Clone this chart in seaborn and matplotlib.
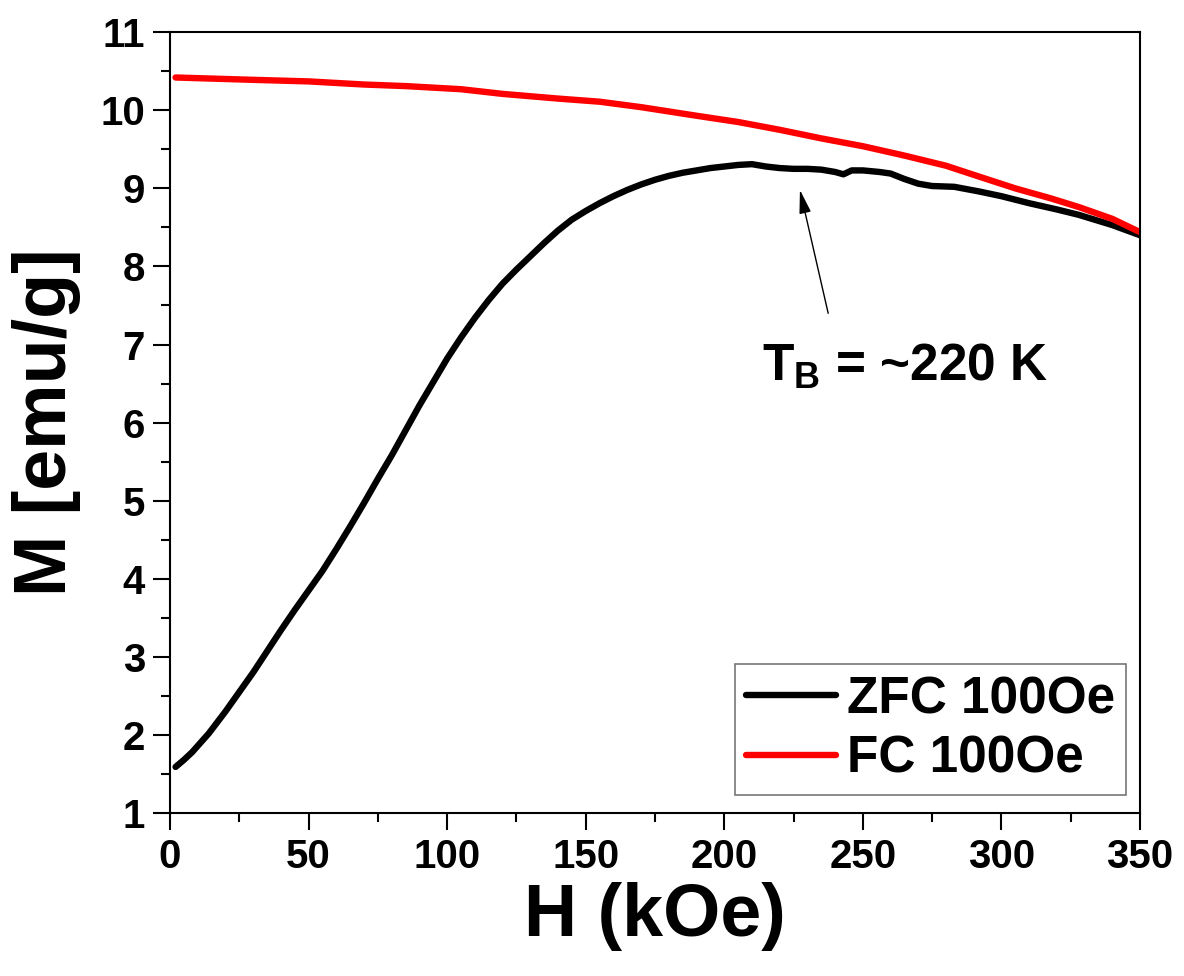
import matplotlib
matplotlib.use("Agg")
import matplotlib.pyplot as plt
from matplotlib.ticker import MultipleLocator
import seaborn as sns
import pandas as pd

# ---- data ----
zfc_h = [2, 5, 8, 11, 14, 17, 20, 25, 30, 35, 40, 45, 50, 55, 60, 65, 70, 75, 80,
         85, 90, 95, 100, 105, 110, 115, 120, 125, 130, 135, 140, 145, 150, 155, 160,
         165, 170, 175, 180, 185, 190, 195, 200, 205, 210, 215, 220, 225, 230, 235,
         240, 243, 246, 250, 256, 260, 265, 270, 275, 283, 292, 300, 310, 320, 328,
         340, 350]
zfc_m = [1.59, 1.68, 1.78, 1.90, 2.02, 2.16, 2.30, 2.55, 2.80, 3.07, 3.34, 3.60, 3.85,
         4.10, 4.38, 4.67, 4.97, 5.28, 5.58, 5.90, 6.22, 6.52, 6.82, 7.09, 7.34, 7.57,
         7.78, 7.96, 8.13, 8.30, 8.46, 8.60, 8.71, 8.81, 8.90, 8.98, 9.05, 9.11, 9.16,
         9.20, 9.23, 9.26, 9.28, 9.30, 9.31, 9.28, 9.26, 9.25, 9.25, 9.24, 9.21, 9.18,
         9.23, 9.23, 9.21, 9.19, 9.12, 9.06, 9.03, 9.02, 8.96, 8.90, 8.81, 8.73, 8.66,
         8.53, 8.40]
fc_h = [2, 30, 50, 70, 85, 105, 120, 140, 155, 170, 190, 205, 220, 235, 250, 265,
        280, 292, 305, 318, 328, 340, 350]
fc_m = [10.42, 10.39, 10.37, 10.33, 10.31, 10.27, 10.21, 10.15, 10.11, 10.04, 9.93,
        9.85, 9.75, 9.64, 9.54, 9.42, 9.29, 9.15, 9.00, 8.87, 8.76, 8.61, 8.44]
series_names = ["ZFC 100Oe", "FC 100Oe"]
series_colors = ["#000000", "#ff0000"]
x_ticks = [0, 50, 100, 150, 200, 250, 300, 350]
y_ticks = [1, 2, 3, 4, 5, 6, 7, 8, 9, 10, 11]
annotation_text = r"T$_\mathrm{B}$ = ~220 K"

df = pd.concat([
    pd.DataFrame({"H": zfc_h, "M": zfc_m, "series": series_names[0]}),
    pd.DataFrame({"H": fc_h, "M": fc_m, "series": series_names[1]}),
], ignore_index=True)

sns.set_theme(style="ticks")
plt.rcParams["font.family"] = ["Liberation Sans", "DejaVu Sans"]
plt.rcParams["font.weight"] = "bold"
plt.rcParams["text.color"] = "black"
plt.rcParams["axes.labelcolor"] = "black"
plt.rcParams["xtick.color"] = "black"
plt.rcParams["ytick.color"] = "black"
plt.rcParams["axes.edgecolor"] = "black"
plt.rcParams["mathtext.fontset"] = "custom"
plt.rcParams["mathtext.rm"] = "Liberation Sans:bold"
plt.rcParams["mathtext.it"] = "Liberation Sans:bold"
plt.rcParams["mathtext.bf"] = "Liberation Sans:bold"

fig = plt.figure(figsize=(11.84, 9.76), dpi=100)
ax = fig.add_axes([0.1436, 0.167, 0.8192, 0.800])

sns.lineplot(data=df, x="H", y="M", hue="series", hue_order=series_names,
             palette=dict(zip(series_names, series_colors)), linewidth=4.6,
             ax=ax, sort=True, estimator=None)
for line in ax.get_lines():
    line.set_solid_joinstyle("round")
    line.set_solid_capstyle("round")

ax.set_xlim(0, 350)
ax.set_ylim(1, 11)
ax.set_xticks(x_ticks)
ax.set_yticks(y_ticks)
ax.xaxis.set_minor_locator(MultipleLocator(25))
ax.yaxis.set_minor_locator(MultipleLocator(0.5))
ax.tick_params(axis="both", which="major", direction="out", length=12, width=1.5,
               labelsize=29, pad=6, top=False, right=False, colors="black")
ax.tick_params(axis="both", which="minor", direction="out", length=6.5, width=1.5,
               top=False, right=False, colors="black")
for lab in ax.get_xticklabels() + ax.get_yticklabels():
    lab.set_fontweight("bold")
    lab.set_color("black")
for sp in ax.spines.values():
    sp.set_visible(True)
    sp.set_linewidth(1.5)
    sp.set_color("black")

ax.set_xlabel("H (kOe)", fontsize=53, fontweight="bold", labelpad=4, color="black")
ax.set_ylabel("M [emu/g]", fontsize=53, fontweight="bold", labelpad=14, color="black")

leg = ax.legend(loc="lower right", bbox_to_anchor=(0.9856, 0.023), borderaxespad=0,
                fontsize=37, handlelength=1.75, handletextpad=0.2, labelspacing=0.2,
                borderpad=0.22, fancybox=False, frameon=True)
leg.get_frame().set_edgecolor("#555555")
leg.get_frame().set_linewidth(1.2)
for line in leg.get_lines():
    line.set_linewidth(4.6)
for t in leg.get_texts():
    t.set_fontweight("bold")
    t.set_color("black")

ax.annotate("", xy=(227.3, 8.98), xytext=(237.5, 7.40),
            arrowprops=dict(arrowstyle="-|>,head_length=0.48,head_width=0.12",
                            mutation_scale=30, lw=1.0, color="black",
                            shrinkA=0, shrinkB=0))
ax.text(213.6, 6.54, annotation_text, fontsize=37, fontweight="bold",
        ha="left", va="baseline", color="black")

fig.savefig("out.png", dpi=100)
